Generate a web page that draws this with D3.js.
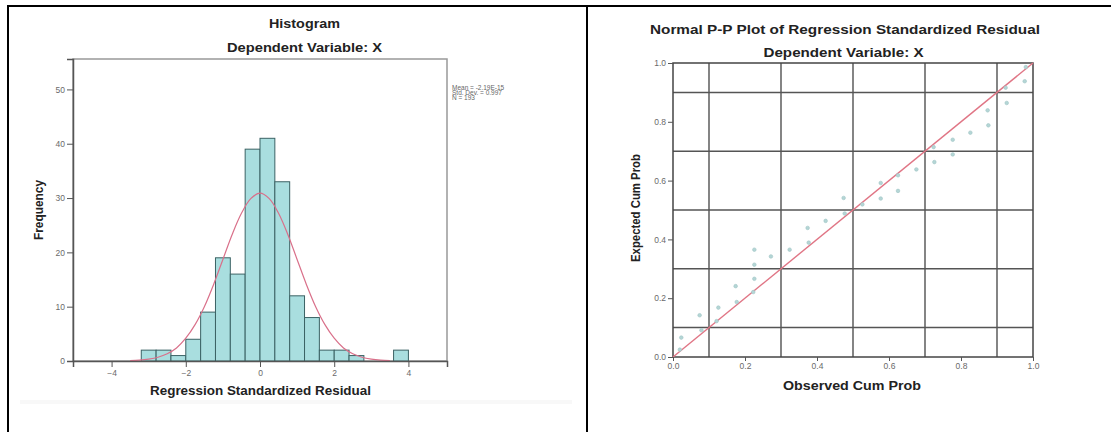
<!DOCTYPE html>
<html>
<head>
<meta charset="utf-8">
<script src="https://cdn.jsdelivr.net/npm/d3@7"></script>
<style>
  body { margin: 0; background: #fff; }
  svg { display: block; font-family: "Liberation Sans", Arial, sans-serif; }
</style>
</head>
<body>
<div id="chart"></div>
<script>
/* Histogram data */
const binLefts = [-3.2, -2.8, -2.4, -2.0, -1.6, -1.2, -0.8, -0.4, 0, 0.4, 0.8, 1.2, 1.6, 2.0, 2.4, 2.8, 3.2, 3.6];
const freqs = [2, 2, 1, 4, 9, 19, 16, 39, 41, 33, 12, 8, 2, 2, 1, 0, 0, 2];
const binWidth = 0.4;
const freqTicks = [0, 10, 20, 30, 40, 50];
const residTicks = [-4, -2, 0, 2, 4];
const statLines = ["Mean = -2.19E-15", "Std. Dev. = 0.997", "N = 193"];

/* normal curve */
const curveX = [-3.5, -3.25, -3, -2.75, -2.5, -2.25, -2, -1.75, -1.5, -1.25, -1, -0.75, -0.5, -0.25, 0,
  0.25, 0.5, 0.75, 1, 1.25, 1.5, 1.75, 2, 2.25, 2.5, 2.75, 3, 3.25, 3.5];
const curveY = [0.07, 0.15, 0.34, 0.69, 1.33, 2.4, 4.2, 6.7, 10.0, 14.1, 18.7, 23.3, 27.2, 29.9, 30.9,
  29.9, 27.2, 23.3, 18.7, 14.1, 10.0, 6.7, 4.2, 2.4, 1.33, 0.69, 0.34, 0.15, 0.07];

/* P-P plot data */
const obsProb = [0.019, 0.023, 0.074, 0.079, 0.121, 0.126, 0.174, 0.177, 0.223, 0.226, 0.226, 0.226, 0.272,
  0.324, 0.374, 0.377, 0.424, 0.474, 0.477, 0.526, 0.577, 0.577, 0.625, 0.625, 0.676, 0.724, 0.726,
  0.777, 0.777, 0.826, 0.874, 0.876, 0.924, 0.927, 0.977, 0.980];
const expProb = [0.025, 0.066, 0.142, 0.091, 0.122, 0.168, 0.241, 0.187, 0.221, 0.266, 0.314, 0.365, 0.342,
  0.365, 0.439, 0.389, 0.463, 0.541, 0.488, 0.519, 0.592, 0.539, 0.618, 0.565, 0.638, 0.714, 0.663,
  0.739, 0.689, 0.763, 0.839, 0.788, 0.916, 0.864, 0.938, 0.986];
const ppTicks = [0, 0.2, 0.4, 0.6, 0.8, 1.0];
const ppGrid = [0.1, 0.3, 0.5, 0.7, 0.9];

const W = 1111, H = 432;
const svg = d3.select("#chart").append("svg")
  .attr("width", W)
  .attr("height", H);

/* outer table borders */
svg.append("rect").attr("x", 20).attr("y", 400).attr("width", 552).attr("height", 4).attr("fill", "#f8f8f8");
svg.append("line").attr("x1", 7).attr("x2", W).attr("y1", 6).attr("y2", 6).attr("stroke", "#000").attr("stroke-width", 2);
svg.append("line").attr("x1", 8).attr("x2", 8).attr("y1", 5).attr("y2", H).attr("stroke", "#000").attr("stroke-width", 2);
svg.append("line").attr("x1", 587).attr("x2", 587).attr("y1", 5).attr("y2", H).attr("stroke", "#000").attr("stroke-width", 2);

function label(g, txt, x, y, size, len, rot) {
  const t = g.append("text")
    .attr("x", x)
    .attr("y", y)
    .attr("text-anchor", "middle")
    .attr("font-weight", "bold")
    .attr("font-size", size + "px")
    .attr("fill", "#222")
    .attr("textLength", len)
    .attr("lengthAdjust", "spacingAndGlyphs")
    .text(txt);
  if (rot) t.attr("transform", `rotate(-90,${x},${y})`);
  return t;
}

function styleAxis(a) {
  a.selectAll(".tick line").attr("stroke", "#555");
  a.selectAll(".tick text").attr("fill", "#6a6a6a").attr("font-size", "8.5px")
    .attr("font-family", "Liberation Sans, Arial, sans-serif");
}

/* Histogram */
function drawHistogram() {
  const g = svg.append("g");
  const x = d3.scaleLinear().domain([-5.04, 5.04]).range([73, 447]);
  const y = d3.scaleLinear().domain([0, 55.6]).range([361, 59]);

  g.append("rect")
    .attr("x", 73).attr("y", 59)
    .attr("width", 374).attr("height", 302)
    .attr("fill", "none")
    .attr("stroke", "#999")
    .attr("stroke-width", 1.5);

  g.selectAll(".bar")
    .data(freqs.map((f, i) => ({ x0: binLefts[i], f })).filter(d => d.f > 0))
    .enter()
    .append("rect")
    .attr("class", "bar")
    .attr("x", d => x(d.x0))
    .attr("y", d => y(d.f))
    .attr("width", d => x(d.x0 + binWidth) - x(d.x0))
    .attr("height", d => y(0) - y(d.f))
    .attr("fill", "#a9dedf")
    .attr("stroke", "#3b6264")
    .attr("stroke-width", 1);

  const line = d3.line()
    .x((d, i) => x(curveX[i]))
    .y(d => y(d))
    .curve(d3.curveCatmullRom);
  g.append("path")
    .datum(curveY)
    .attr("d", line)
    .attr("fill", "none")
    .attr("stroke", "#d9708a")
    .attr("stroke-width", 1.2);

  const ya = g.append("g").attr("transform", "translate(73,0)")
    .call(d3.axisLeft(y).tickValues(freqTicks).tickSize(6).tickPadding(2));
  const xa = g.append("g").attr("transform", "translate(0,361)")
    .call(d3.axisBottom(x).tickValues(residTicks).tickSize(6).tickPadding(3));
  [ya, xa].forEach(a => {
    a.select(".domain").attr("stroke", "#555").attr("stroke-width", 1.5);
    styleAxis(a);
  });

  label(g, "Histogram", 304.5, 28, 13.5, 71);
  label(g, "Dependent Variable: X", 304.5, 52, 13.5, 155);
  label(g, "Regression Standardized Residual", 260.5, 395, 13, 221);
  label(g, "Frequency", 43, 210, 12.5, 60, true);

  g.selectAll(".stat")
    .data(statLines)
    .enter()
    .append("text")
    .attr("class", "stat")
    .attr("x", 452)
    .attr("y", (d, i) => 90 + i * 5)
    .attr("font-size", "6.5px")
    .attr("fill", "#666")
    .text(d => d);
}

/* Normal P-P plot */
function drawPP() {
  const g = svg.append("g");
  const x = d3.scaleLinear().domain([0, 1]).range([673, 1033]);
  const y = d3.scaleLinear().domain([0, 1]).range([357, 63]);

  g.selectAll(".vgrid")
    .data(ppGrid)
    .enter()
    .append("line")
    .attr("x1", d => x(d)).attr("x2", d => x(d))
    .attr("y1", 63).attr("y2", 357)
    .attr("stroke", "#333")
    .attr("stroke-width", 1.2);
  g.selectAll(".hgrid")
    .data(ppGrid)
    .enter()
    .append("line")
    .attr("x1", 673).attr("x2", 1033)
    .attr("y1", d => y(d)).attr("y2", d => y(d))
    .attr("stroke", "#555")
    .attr("stroke-width", 1.5);

  g.append("rect")
    .attr("x", 673).attr("y", 63)
    .attr("width", 360).attr("height", 294)
    .attr("fill", "none")
    .attr("stroke", "#444")
    .attr("stroke-width", 1.5);

  g.append("line")
    .attr("x1", x(0)).attr("y1", y(0))
    .attr("x2", x(1)).attr("y2", y(1))
    .attr("stroke", "#e07585")
    .attr("stroke-width", 1.4);

  g.selectAll(".pt")
    .data(obsProb)
    .enter()
    .append("circle")
    .attr("class", "pt")
    .attr("cx", d => x(d))
    .attr("cy", (d, i) => y(expProb[i]))
    .attr("r", 1.8)
    .attr("fill", "#b4d6d6")
    .attr("stroke", "#9fc4c4")
    .attr("stroke-width", 0.6);

  const ya = g.append("g").attr("transform", "translate(673,0)")
    .call(d3.axisLeft(y).tickValues(ppTicks).tickSize(5).tickPadding(2).tickFormat(d3.format(".1f")));
  const xa = g.append("g").attr("transform", "translate(0,357)")
    .call(d3.axisBottom(x).tickValues(ppTicks).tickSize(4).tickPadding(2).tickFormat(d3.format(".1f")));
  [ya, xa].forEach(a => {
    a.select(".domain").remove();
    styleAxis(a);
  });

  label(g, "Normal P-P Plot of Regression Standardized Residual", 845, 34, 13, 390);
  label(g, "Dependent Variable: X", 843.5, 57, 13.5, 160);
  label(g, "Observed Cum Prob", 852, 390, 13, 138);
  label(g, "Expected Cum Prob", 640, 208, 12.5, 108, true);
}

drawHistogram();
drawPP();
</script>
</body>
</html>
